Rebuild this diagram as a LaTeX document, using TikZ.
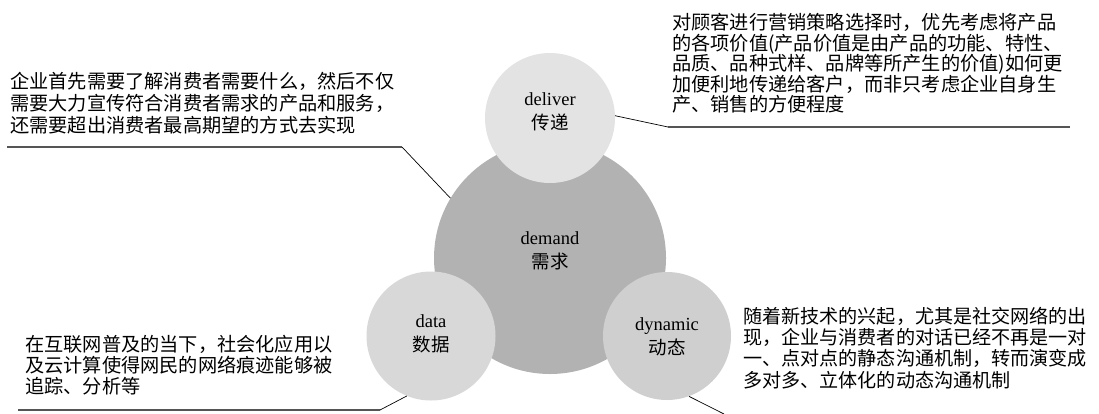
\documentclass[tikz,border=0pt]{standalone}
\usepackage{fontspec}
\setmainfont{Liberation Serif}
\newfontfamily\cjk{Noto Sans CJK SC}
\definecolor{demandc}{HTML}{B2B2B2}
\definecolor{deliverc}{HTML}{E3E3E3}
\definecolor{datac}{HTML}{D8D8D8}
\definecolor{dynamicc}{HTML}{CFCFCF}
\definecolor{rulec}{HTML}{555555}
\tikzset{
  body/.style={font=\cjk\fontsize{19.2}{22}\selectfont, align=left, anchor=north west, inner sep=0pt},
  disc/.style={circle, inner sep=0pt, draw=none},
  circlab/.style={font=\fontsize{18.5}{24}\selectfont, align=center, inner sep=0pt},
  rule/.style={draw=rulec, line width=1.1pt},
  lead/.style={draw=black, line width=0.7pt}
}
\begin{document}
\begin{tikzpicture}[x=1pt,y=-1pt]
\useasboundingbox (0,0) rectangle (1099,413);
% circles
\node[disc, fill=demandc, minimum size=232pt] (demand) at (550,258) {};
\node[disc, fill=deliverc, minimum size=130pt] (deliver) at (550,118) {};
\node[disc, fill=datac, minimum size=129pt] (data) at (431,336) {};
\node[disc, fill=dynamicc, minimum size=128pt] (dynamic) at (667,336) {};
% circle labels
\node[circlab] (demandt) at (550,251) {demand\\{\cjk 需求}};
\node[circlab] (delivert) at (550,112) {deliver\\{\cjk 传递}};
\node[circlab] (datat) at (431,334) {data\\{\cjk 数据}};
\node[circlab] (dynamict) at (667,337) {dynamic\\{\cjk 动态}};
% texts
\node[body] (tl) at (10,72) {企业首先需要了解消费者需要什么，然后不仅\\需要大力宣传符合消费者需求的产品和服务，\\还需要超出消费者最高期望的方式去实现};
\node[body, font=\cjk\fontsize{19.2}{20.6}\selectfont] (tr) at (672,13) {对顾客进行营销策略选择时，优先考虑将产品\\的各项价值(产品价值是由产品的功能、特性、\\品质、品种式样、品牌等所产生的价值)如何更\\加便利地传递给客户，而非只考虑企业自身生\\产、销售的方便程度};
\node[body, font=\cjk\fontsize{19.2}{21}\selectfont] (bl) at (25,335) {在互联网普及的当下，社会化应用以\\及云计算使得网民的网络痕迹能够被\\追踪、分析等};
\node[body, font=\cjk\fontsize{19.1}{21.2}\selectfont] (br) at (743,307) {随着新技术的兴起，尤其是社交网络的出\\现，企业与消费者的对话已经不再是一对\\一、点对点的静态沟通机制，转而演变成\\多对多、立体化的动态沟通机制};
% leader lines
\coordinate (tlA) at (7,147);
\coordinate (tlB) at (402,147);
\coordinate (trA) at (1070,127);
\coordinate (trB) at (668,127);
\coordinate (blA) at (18,410);
\coordinate (blB) at (380,410);
\coordinate (brB) at (724,414);
\draw[rule] (tlA) -- (tlB);
\draw[lead] (tlB) -- (demand.149.5);
\draw[rule] (trA) -- (trB);
\draw[lead] (trB) -- (deliver.2);
\draw[rule] (blA) -- (blB);
\draw[lead] (blB) -- (data.-112);
\draw[lead] (dynamic.-70) -- (brB);
\end{tikzpicture}
\end{document}
